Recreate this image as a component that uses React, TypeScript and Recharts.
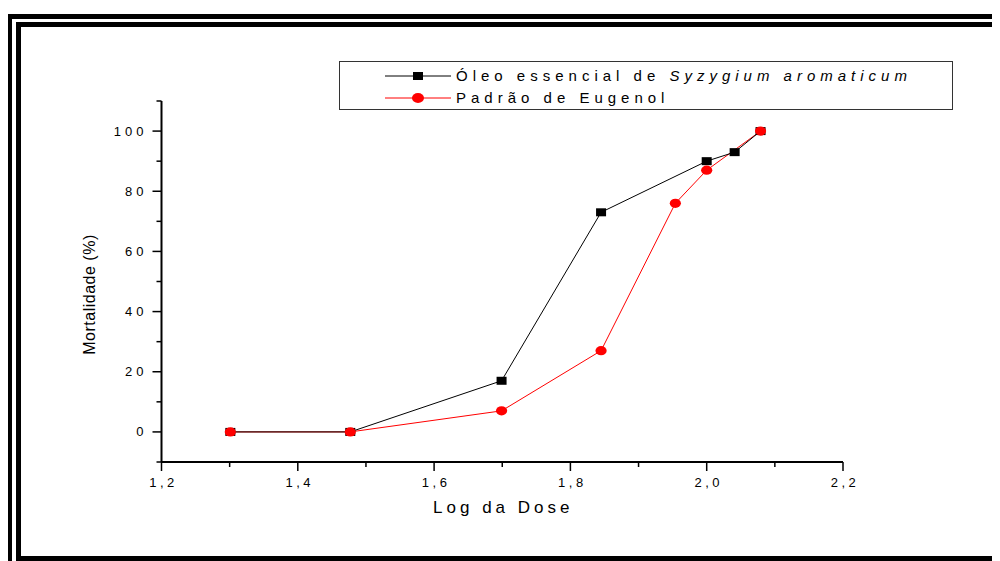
import React from "react";
import { ComposedChart, Line, XAxis, YAxis, Legend, Label } from "recharts";

// log10 of the dose and mortality (%) for each preparation
const oleoLogDose = [1.301, 1.477, 1.699, 1.845, 2.0, 2.041, 2.079];
const oleoMortalidade = [0, 0, 17, 73, 90, 93, 100];
const eugenolLogDose = [1.301, 1.477, 1.699, 1.845, 1.954, 2.0, 2.079];
const eugenolMortalidade = [0, 0, 7, 27, 76, 87, 100];

const xMajorTicks = [1.2, 1.4, 1.6, 1.8, 2.0, 2.2];
const xAllTicks = [1.2, 1.3, 1.4, 1.5, 1.6, 1.7, 1.8, 1.9, 2.0, 2.1, 2.2];
const yMajorTicks = [0, 20, 40, 60, 80, 100];
const yAllTicks = [-10, 0, 10, 20, 30, 40, 50, 60, 70, 80, 90, 100, 110];

const SERIES_OLEO = "Óleo essencial de ";
const SERIES_OLEO_SPECIES = "Syzygium aromaticum";
const SERIES_EUGENOL = "Padrão de Eugenol";

const oleoData = oleoLogDose.map((x, i) => ({ x, y: oleoMortalidade[i] }));
const eugenolData = eugenolLogDose.map((x, i) => ({ x, y: eugenolMortalidade[i] }));

const FONT = "'Liberation Sans', Arial, sans-serif";

const W = 992;
const H = 553;

function XTick(props: any) {
  const { x, y, payload } = props;
  const major = xMajorTicks.includes(payload.value);
  return (
    <g>
      <line x1={x} x2={x} y1={y} y2={y + (major ? 9 : 5)} stroke="#000" strokeWidth={1.5} />
      {major && (
        <text x={x + 2} y={y + 25} textAnchor="middle" fontSize={13} letterSpacing={3.5} fill="#000" fontFamily={FONT}>
          {payload.value.toFixed(1).replace(".", ",")}
        </text>
      )}
    </g>
  );
}

function YTick(props: any) {
  const { x, y, payload } = props;
  const major = yMajorTicks.includes(payload.value);
  return (
    <g>
      <line x1={x} x2={x - (major ? 9 : 5)} y1={y} y2={y} stroke="#000" strokeWidth={1.5} />
      {major && (
        <text x={x - 14} y={y + 4.5} textAnchor="end" fontSize={13} letterSpacing={4} fill="#000" fontFamily={FONT}>
          {payload.value}
        </text>
      )}
    </g>
  );
}

function Square(props: any) {
  const { cx, cy } = props;
  if (cx == null || cy == null) return null;
  return <rect x={cx - 5} y={cy - 4} width={10} height={8} fill="#000" />;
}

function Dot(props: any) {
  const { cx, cy } = props;
  if (cx == null || cy == null) return null;
  return <ellipse cx={cx} cy={cy} rx={5.6} ry={4.6} fill="#ff0000" />;
}

function LegendBox() {
  const row = (top: number, color: string, marker: React.ReactNode, label: React.ReactNode) => (
    <div style={{ position: "absolute", left: 45, top: top - 9, height: 18, display: "flex", alignItems: "center" }}>
      <svg width={66} height={18} style={{ display: "block" }}>
        <line x1={0} x2={66} y1={9} y2={9} stroke={color} strokeWidth={1} />
        {marker}
      </svg>
      <span style={{ marginLeft: 5, fontSize: 15, letterSpacing: 5, color: "#000", whiteSpace: "nowrap", lineHeight: "18px" }}>
        {label}
      </span>
    </div>
  );
  return (
    <div
      style={{
        position: "relative",
        width: 614,
        height: 49,
        border: "1px solid #333",
        boxSizing: "border-box",
        background: "#fff",
        fontFamily: FONT,
      }}
    >
      {row(14, "#000", <rect x={28} y={5} width={10} height={8} fill="#000" />, (
        <>
          {SERIES_OLEO}
          <i>{SERIES_OLEO_SPECIES}</i>
        </>
      ))}
      {row(36, "#ff0000", <ellipse cx={33} cy={9} rx={6} ry={5} fill="#ff0000" />, SERIES_EUGENOL)}
    </div>
  );
}

export default function App() {
  return (
    <div style={{ position: "relative", width: W, height: H, overflow: "hidden", background: "#fff" }}>
      {/* double frame around the figure */}
      <div style={{ position: "absolute", left: 0, top: 6, width: W + 20, height: H + 20, borderLeft: "4px solid #000", borderTop: "5px solid #000" }} />
      <div
        style={{
          position: "absolute",
          left: 8,
          top: 14,
          width: W + 20,
          height: H - 14,
          boxSizing: "border-box",
          borderLeft: "5px solid #000",
          borderTop: "5px solid #000",
          borderBottom: "5px solid #000",
        }}
      />
      <div style={{ position: "absolute", left: 0, top: 0 }}>
        <ComposedChart width={W} height={H} margin={{ top: 93, right: 157, bottom: 39, left: 93.5 }}>
          <XAxis
            type="number"
            dataKey="x"
            domain={[1.2, 2.2]}
            ticks={xAllTicks}
            interval={0}
            allowDataOverflow
            height={60}
            axisLine={{ stroke: "#000", strokeWidth: 2 }}
            tickLine={false}
            tickSize={0}
            tickMargin={0}
            tick={<XTick />}
          >
            <Label
              content={(p: any) => {
                const vb = p.viewBox;
                return (
                  <text x={vb.x + vb.width / 2 + 1} y={vb.y + 51} textAnchor="middle" fontSize={17} letterSpacing={4} fill="#000" fontFamily={FONT}>
                    Log da Dose
                  </text>
                );
              }}
            />
          </XAxis>
          <YAxis
            type="number"
            dataKey="y"
            domain={[-10, 110]}
            ticks={yAllTicks}
            interval={0}
            allowDataOverflow
            width={60}
            axisLine={{ stroke: "#000", strokeWidth: 2 }}
            tickLine={false}
            tickSize={0}
            tickMargin={0}
            tick={<YTick />}
          >
            <Label
              content={(p: any) => {
                const vb = p.viewBox;
                const cx = vb.x - 12;
                const cy = vb.y + vb.height / 2 + 13;
                return (
                  <text x={cx} y={cy} transform={`rotate(-90 ${cx} ${cy})`} textAnchor="middle" dominantBaseline="central" fontSize={16} letterSpacing={0.5} fill="#000" fontFamily={FONT}>
                    Mortalidade (%)
                  </text>
                );
              }}
            />
          </YAxis>
          <Legend
            layout="vertical"
            align="center"
            verticalAlign="middle"
            wrapperStyle={{ left: 331, top: 53, width: 614, height: 49 }}
            content={() => <LegendBox />}
          />
          <Line data={eugenolData} dataKey="y" name="eugenol" stroke="#ff0000" strokeWidth={1} dot={false} isAnimationActive={false} />
          <Line data={oleoData} dataKey="y" name="oleo" stroke="#000" strokeWidth={1} dot={false} isAnimationActive={false} />
          <Line data={oleoData} dataKey="y" name="oleo-pts" stroke="none" dot={<Square />} activeDot={false} legendType="none" isAnimationActive={false} />
          <Line data={eugenolData} dataKey="y" name="eugenol-pts" stroke="none" dot={<Dot />} activeDot={false} legendType="none" isAnimationActive={false} />
        </ComposedChart>
      </div>
    </div>
  );
}
